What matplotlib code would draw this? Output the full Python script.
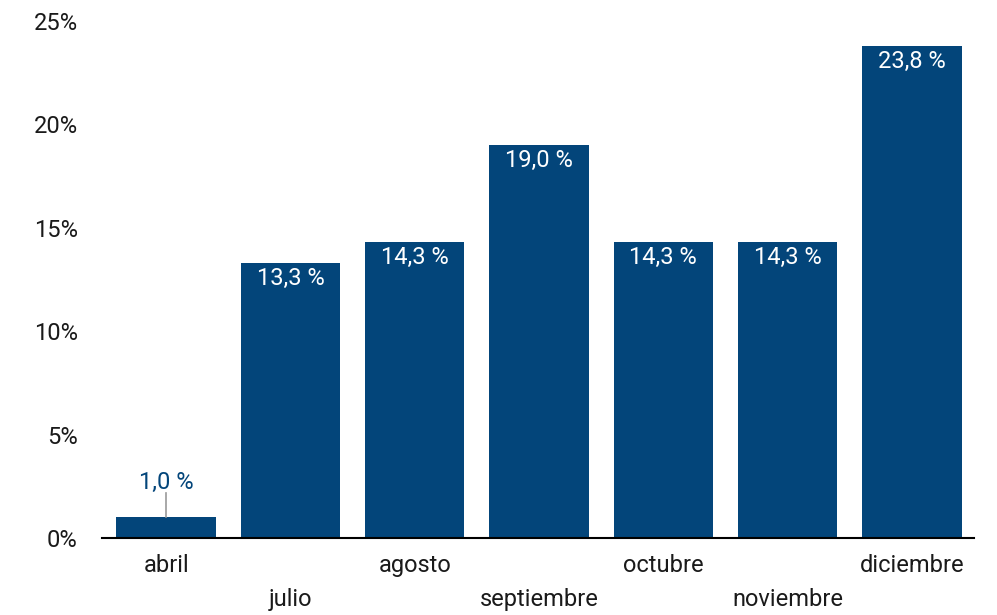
import matplotlib
matplotlib.use("Agg")
import matplotlib.pyplot as plt
from matplotlib.ticker import FuncFormatter, MultipleLocator

plt.rcParams['font.family'] = ['Roboto', 'DejaVu Sans']

months = ["abril", "julio", "agosto", "septiembre", "octubre", "noviembre", "diciembre"]
values = [1.0, 13.3, 14.3, 19.0, 14.3, 14.3, 23.8]

bar_color = "#03457a"
text_color = "#1a1a1a"
fs = 17

fig = plt.figure(figsize=(9.97, 6.15), dpi=100)
ax = fig.add_axes([104 / 997, 1 - 538 / 615, 870 / 997, 517 / 615])

x = list(range(len(months)))
ax.bar(x, values, width=0.8, color=bar_color)
ax.set_xlim(-0.5, len(months) - 0.5)
ax.set_ylim(0, 25)

for i, v in enumerate(values):
    label = f"{v:.1f}".replace(".", ",") + " %"
    if v < 3:
        # small bar: label above with a leader line
        ax.plot([i, i], [v, v + 1.2], color="#999999", lw=1.2)
        ax.annotate(label, xy=(i, v), xytext=(0, 25), textcoords="offset points",
                    ha="center", va="center", color=bar_color, fontsize=fs)
    else:
        ax.annotate(label, xy=(i, v), xytext=(0, -11), textcoords="offset points",
                    ha="center", va="center", color="white", fontsize=fs)

# staggered month labels
ax.set_xticks(x)
ax.set_xticklabels([])
ax.tick_params(axis="x", length=0)
for i, m in enumerate(months):
    off = -20 if i % 2 == 0 else -44
    ax.annotate(m, xy=(i, 0), xytext=(0, off), textcoords="offset points",
                ha="center", va="center", fontsize=fs, color=text_color,
                annotation_clip=False)

ax.yaxis.set_major_locator(MultipleLocator(5))
ax.yaxis.set_major_formatter(FuncFormatter(lambda v, p: f"{v:.0f}%"))
ax.tick_params(axis="y", length=0, pad=19, labelsize=fs, labelcolor=text_color)

for s in ["top", "right", "left"]:
    ax.spines[s].set_visible(False)
ax.spines["bottom"].set_color("black")
ax.spines["bottom"].set_linewidth(1.5)
ax.spines["bottom"].set_bounds(-0.52, len(months) - 0.5)

fig.savefig("out.png", dpi=100)
